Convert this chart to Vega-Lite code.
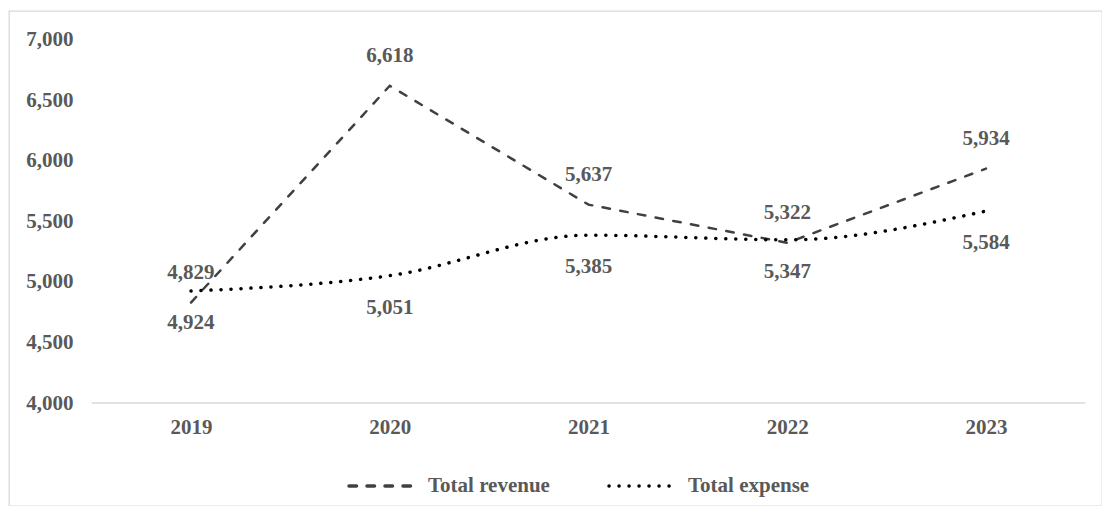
{
  "$schema": "https://vega.github.io/schema/vega-lite/v6.json",
  "width": 1093,
  "height": 495,
  "padding": {"left": 9, "top": 11, "right": 0, "bottom": 0},
  "autosize": {"type": "none"},
  "background": "white",
  "config": {
    "view": {"stroke": "#d9d9d9", "strokeWidth": 1.3},
    "font": "Liberation Serif"
  },
  "data": {
    "values": [
      {"year": 2019, "series": "Total revenue", "value": 4829},
      {"year": 2020, "series": "Total revenue", "value": 6618},
      {"year": 2021, "series": "Total revenue", "value": 5637},
      {"year": 2022, "series": "Total revenue", "value": 5322},
      {"year": 2023, "series": "Total revenue", "value": 5934},
      {"year": 2019, "series": "Total expense", "value": 4924},
      {"year": 2020, "series": "Total expense", "value": 5051},
      {"year": 2021, "series": "Total expense", "value": 5385},
      {"year": 2022, "series": "Total expense", "value": 5347},
      {"year": 2023, "series": "Total expense", "value": 5584}
    ]
  },
  "encoding": {
    "x": {
      "field": "year",
      "type": "quantitative",
      "scale": {"domain": [2018.0843, 2023.5836], "nice": false, "zero": false},
      "axis": {
        "values": [2019, 2020, 2021, 2022, 2023],
        "format": "d",
        "title": null,
        "domain": false,
        "ticks": false,
        "tickSize": 0,
        "grid": false,
        "labelPadding": 0,
        "labelBaseline": "middle",
        "labelFlush": false,
        "labelOverlap": false,
        "offset": -79,
        "labelFont": "Liberation Serif",
        "labelFontSize": 21,
        "labelFontWeight": "bold",
        "labelColor": "#595959"
      }
    },
    "y": {
      "field": "value",
      "type": "quantitative",
      "scale": {"domain": [3150, 7235], "nice": false, "zero": false},
      "axis": {
        "values": [4000, 4500, 5000, 5500, 6000, 6500, 7000],
        "format": ",.0f",
        "title": null,
        "domain": false,
        "ticks": false,
        "tickSize": 0,
        "grid": false,
        "labelPadding": 0,
        "labelFlush": false,
        "labelOverlap": false,
        "offset": -64,
        "labelFont": "Liberation Serif",
        "labelFontSize": 21,
        "labelFontWeight": "bold",
        "labelColor": "#595959"
      }
    }
  },
  "layer": [
    {
      "data": {"values": [{"x1": 2018.5, "x2": 2023.5, "base": 4000}]},
      "mark": {"type": "rule", "color": "#d9d9d9", "strokeWidth": 1.5},
      "encoding": {
        "x": {"field": "x1", "type": "quantitative"},
        "x2": {"field": "x2"},
        "y": {"field": "base", "type": "quantitative"}
      }
    },
    {
      "transform": [{"filter": "datum.series === 'Total revenue'"}],
      "mark": {"type": "line", "strokeWidth": 2.5, "strokeCap": "round"},
      "encoding": {
        "color": {
          "field": "series",
          "type": "nominal",
          "scale": {"domain": ["Total revenue", "Total expense"], "range": ["#404040", "#000000"]},
          "legend": {
            "orient": "none",
            "direction": "horizontal",
            "legendX": 338,
            "legendY": 441,
            "title": null,
            "padding": 0,
            "symbolType": "stroke",
            "symbolSize": 4096,
            "symbolStrokeWidth": 3.5,
            "labelOffset": 13,
            "columnPadding": 52,
            "labelFont": "Liberation Serif",
            "labelFontSize": 21,
            "labelFontWeight": "bold",
            "labelColor": "#595959",
            "labelLimit": 300,
            "encoding": {"symbols": {"strokeCap": {"value": "round"}}}
          }
        },
        "strokeDash": {
          "field": "series",
          "type": "nominal",
          "scale": {"domain": ["Total revenue", "Total expense"], "range": [[7.5, 10.5], [0.1, 9.9]]},
          "legend": {
            "orient": "none",
            "direction": "horizontal",
            "legendX": 338,
            "legendY": 441,
            "title": null,
            "padding": 0,
            "symbolType": "stroke",
            "symbolSize": 4096,
            "symbolStrokeWidth": 3.5,
            "labelOffset": 13,
            "columnPadding": 52,
            "labelFont": "Liberation Serif",
            "labelFontSize": 21,
            "labelFontWeight": "bold",
            "labelColor": "#595959",
            "labelLimit": 300,
            "encoding": {"symbols": {"strokeCap": {"value": "round"}}}
          }
        }
      }
    },
    {
      "transform": [{"filter": "datum.series === 'Total expense'"}],
      "mark": {"type": "line", "strokeWidth": 3.5, "strokeCap": "round", "interpolate": "monotone"},
      "encoding": {
        "color": {"field": "series", "type": "nominal"},
        "strokeDash": {"field": "series", "type": "nominal"}
      }
    },
    {
      "transform": [{"filter": "datum.series === 'Total revenue'"}],
      "mark": {"type": "text", "baseline": "middle", "align": "center", "dy": -30, "font": "Liberation Serif", "fontSize": 21, "fontWeight": "bold", "color": "#595959"},
      "encoding": {"text": {"field": "value", "type": "quantitative", "format": ","}}
    },
    {
      "transform": [{"filter": "datum.series === 'Total expense'"}],
      "mark": {"type": "text", "baseline": "middle", "align": "center", "dy": 32, "font": "Liberation Serif", "fontSize": 21, "fontWeight": "bold", "color": "#595959"},
      "encoding": {"text": {"field": "value", "type": "quantitative", "format": ","}}
    }
  ]
}
